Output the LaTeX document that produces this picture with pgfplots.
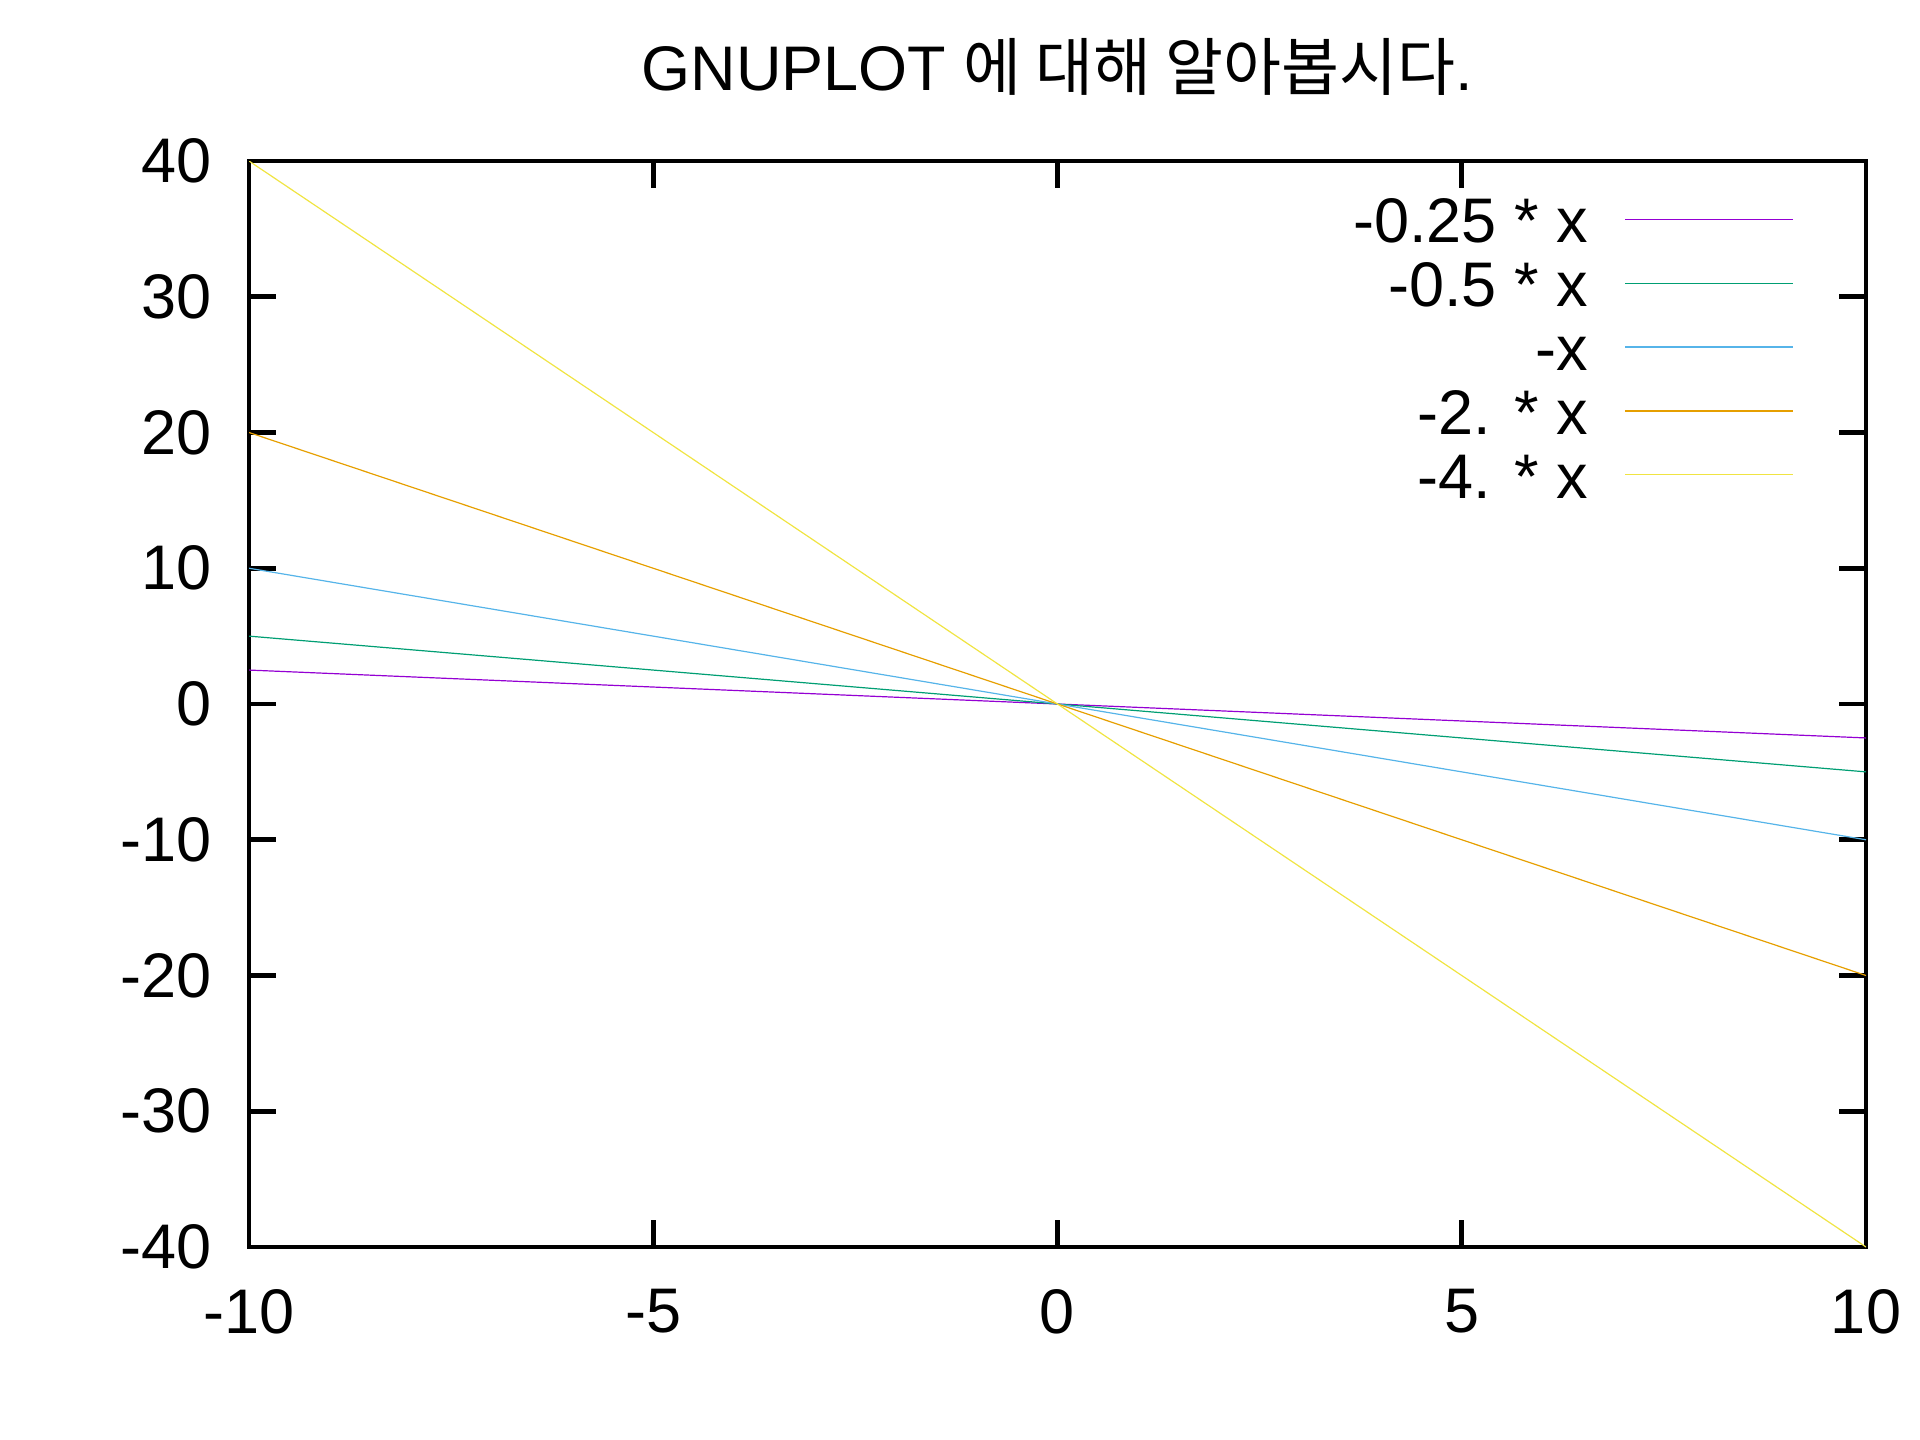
\documentclass[border=0pt]{standalone}
\usepackage{pgfplots}
\pgfplotsset{compat=1.18}
\usepackage{fontspec}
\setmainfont{Liberation Sans}
\newfontfamily\cjk{Noto Sans CJK KR}
\definecolor{gp1}{HTML}{9400D3}
\definecolor{gp2}{HTML}{009E73}
\definecolor{gp3}{HTML}{56B4E9}
\definecolor{gp4}{HTML}{E69F00}
\definecolor{gp5}{HTML}{F0E442}
\begin{document}
\begin{tikzpicture}
\path[use as bounding box] (0,0) rectangle (640bp,480bp);
\begin{axis}[
  at={(83bp,64.33bp)}, anchor=south west,
  scale only axis, width=539bp, height=362bp,
  xmin=-10, xmax=10, ymin=-40, ymax=40,
  xtick={-10,-5,0,5,10}, xticklabels={-10,-5,0,5,10},
  ytick={-40,-30,-20,-10,0,10,20,30,40},
  yticklabels={-40,-30,-20,-10,0,10,20,30,40},
  tick pos=both, tick align=inside,
  major tick length=9bp,
  axis line style={line width=1.6bp},
  every tick/.style={line width=1.6bp, black},
  font=\fontsize{21bp}{25bp}\selectfont,
  xticklabel style={anchor=north, inner sep=0pt, yshift=-14bp},
  yticklabel style={anchor=east, inner sep=0pt, xshift=-12.4bp},
  title={GNUPLOT {\cjk 에 대해 알아봅시다}.},
  title style={at={(0.5,1)}, anchor=base, yshift=17.5bp, inner sep=0pt},
  legend cell align=right,
  legend plot pos=right,
  legend image code/.code={\draw[#1] (0bp,3.9bp) -- (56bp,3.9bp);},
  legend style={draw=none, fill=none, at={(rel axis cs:1,1)}, anchor=north east,
    xshift=-24bp, yshift=-12.65bp, inner sep=0pt, outer sep=0pt,
    row sep=0pt, column sep=12.3bp,
    nodes={inner sep=0pt, text height=14.5bp, text depth=6.8bp}},
  every axis plot/.append style={line width=0.4bp},
]
\addplot[gp1] coordinates {(-10,2.5) (10,-2.5)};
\addlegendentry{-0.25 * x}
\addplot[gp2] coordinates {(-10,5) (10,-5)};
\addlegendentry{-0.5 * x}
\addplot[gp3] coordinates {(-10,10) (10,-10)};
\addlegendentry{-x}
\addplot[gp4] coordinates {(-10,20) (10,-20)};
\addlegendentry{-2. * x}
\addplot[gp5] coordinates {(-10,40) (10,-40)};
\addlegendentry{-4. * x}
\end{axis}
\end{tikzpicture}
\end{document}
